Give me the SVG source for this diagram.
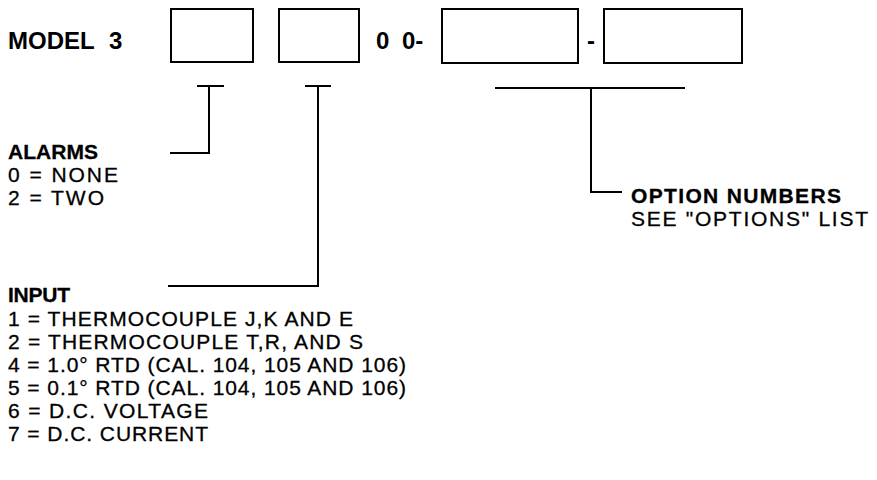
<svg xmlns="http://www.w3.org/2000/svg" width="877" height="480" viewBox="0 0 877 480">
<style>
text{font-family:"Liberation Sans",Arial,sans-serif;fill:#000}
.b{font-weight:bold}
.t{font-size:21px;stroke:#000;stroke-width:0.3}
.h{font-size:24px;font-weight:bold}
.box{fill:#fff;stroke:#000;stroke-width:2}
.ln{fill:none;stroke:#000;stroke-width:2}
</style>
<rect width="877" height="480" fill="#fff"/>
<g id="title">
<text class="h" x="8" y="49" word-spacing="8">MODEL 3</text>
<text class="h" x="376" y="49" word-spacing="6">0 0-</text>
<text class="h" x="587" y="49">-</text>
</g>
<g id="box-alarms"><rect class="box" x="171" y="9" width="82" height="53"/></g>
<g id="box-input"><rect class="box" x="279" y="9" width="80" height="53"/></g>
<g id="box-opt1"><rect class="box" x="442" y="9" width="136" height="54"/></g>
<g id="box-opt2"><rect class="box" x="604" y="9" width="138" height="54"/></g>
<g id="connectors">
<path class="ln" d="M197 86H224M209 86V153H170"/>
<path class="ln" d="M305 86H331M318 86V286H168"/>
<path class="ln" d="M495 88H685M591 88V192H622"/>
</g>
<g id="alarms">
<text class="t b" x="8" y="159" textLength="90" lengthAdjust="spacing">ALARMS</text>
<text class="t" x="8" y="182" textLength="110" lengthAdjust="spacing">0 = NONE</text>
<text class="t" x="8" y="205" textLength="96" lengthAdjust="spacing">2 = TWO</text>
</g>
<g id="input">
<text class="t b" x="8" y="302" textLength="62" lengthAdjust="spacing">INPUT</text>
<text class="t" x="8" y="326" textLength="345" lengthAdjust="spacing">1 = THERMOCOUPLE J,K AND E</text>
<text class="t" x="8" y="349" textLength="355" lengthAdjust="spacing">2 = THERMOCOUPLE T,R, AND S</text>
<text class="t" x="8" y="372" textLength="398" lengthAdjust="spacing">4 = 1.0° RTD (CAL. 104, 105 AND 106)</text>
<text class="t" x="8" y="395" textLength="398" lengthAdjust="spacing">5 = 0.1° RTD (CAL. 104, 105 AND 106)</text>
<text class="t" x="8" y="418" textLength="200" lengthAdjust="spacing">6 = D.C. VOLTAGE</text>
<text class="t" x="8" y="441" textLength="200" lengthAdjust="spacing">7 = D.C. CURRENT</text>
</g>
<g id="options">
<text class="t b" x="631" y="203" textLength="210" lengthAdjust="spacing">OPTION NUMBERS</text>
<text class="t" x="631" y="226" textLength="237" lengthAdjust="spacing">SEE "OPTIONS" LIST</text>
</g>
</svg>
